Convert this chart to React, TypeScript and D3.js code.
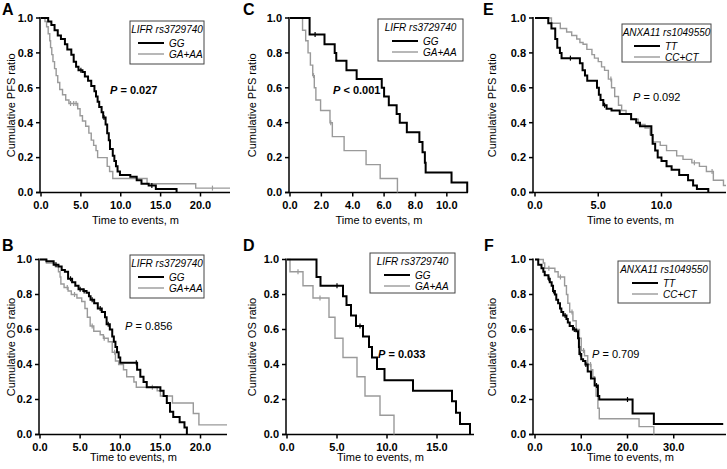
import React from "react";
import * as d3 from "d3";

type Pt = [number, number];

const yTicks = [0, 0.2, 0.4, 0.6, 0.8, 1.0];

// ---------- Panel A (PFS, LIFR) ----------
const aXTicks = [0, 5, 10, 15, 20];
const aGG: Pt[] = [[0.9,0.98],[1.3,0.96],[1.7,0.93],[2.1,0.9],[2.5,0.88],[3.0,0.85],[3.3,0.82],[3.8,0.79],[4.1,0.75],[4.4,0.72],[4.7,0.7],[5.2,0.69],[5.5,0.665],[5.9,0.64],[6.3,0.61],[6.7,0.58],[6.9,0.55],[7.1,0.52],[7.3,0.49],[7.6,0.46],[7.8,0.43],[8.1,0.39],[8.3,0.34],[8.5,0.3],[8.65,0.25],[9.0,0.21],[9.2,0.18],[9.4,0.15],[9.6,0.12],[9.9,0.1],[11.2,0.09],[12.0,0.07],[12.6,0.05],[13.5,0.04],[14.4,0.02],[17.0,0.0]];
const aGA: Pt[] = [[0.5,0.98],[0.7,0.95],[0.9,0.91],[1.1,0.87],[1.2,0.83],[1.35,0.79],[1.5,0.75],[1.7,0.71],[1.9,0.67],[2.1,0.63],[2.35,0.59],[2.7,0.56],[3.1,0.53],[3.5,0.51],[4.6,0.48],[4.9,0.44],[5.2,0.41],[5.6,0.38],[6.0,0.34],[6.3,0.3],[6.6,0.27],[6.9,0.24],[7.1,0.2],[8.3,0.15],[8.6,0.12],[9.0,0.08],[13.3,0.05],[19.4,0.025],[23.7,0.025]];
const aGGCens = [5.0, 7.9, 13.9];
const aGACens = [3.7, 4.1, 4.4, 21.5];

// ---------- Panel C (PFS, LIFR) ----------
const cXTicks = [0, 2, 4, 6, 8, 10];
const cGG: Pt[] = [[1.25,0.905],[2.2,0.85],[2.85,0.8],[2.95,0.755],[3.6,0.7],[4.25,0.65],[5.85,0.6],[6.0,0.55],[6.3,0.5],[6.8,0.45],[7.0,0.4],[7.45,0.345],[8.25,0.29],[8.45,0.23],[8.6,0.17],[8.65,0.115],[10.3,0.058],[11.3,0.0]];
const cGA: Pt[] = [[0.8,0.93],[1.0,0.87],[1.15,0.8],[1.3,0.73],[1.45,0.67],[1.55,0.6],[1.65,0.53],[1.95,0.47],[2.55,0.4],[2.7,0.32],[3.45,0.24],[4.85,0.16],[5.75,0.08],[6.85,0.0]];
const cGGCens = [1.6];
const cGACens = [1.5, 2.6];

// ---------- Panel E (PFS, ANXA11) ----------
const eXTicks = [0, 5, 10];
const eTT: Pt[] = [[1.05,0.97],[1.3,0.94],[1.6,0.88],[1.76,0.83],[1.97,0.8],[2.1,0.77],[3.55,0.74],[3.76,0.7],[3.95,0.67],[4.13,0.64],[4.9,0.6],[5.05,0.56],[5.18,0.53],[5.4,0.5],[5.66,0.48],[6.05,0.47],[6.7,0.45],[7.6,0.42],[8.0,0.4],[8.3,0.38],[9.2,0.33],[9.3,0.28],[9.5,0.24],[9.7,0.2],[10.0,0.18],[10.4,0.15],[10.8,0.13],[11.4,0.1],[12.1,0.07],[12.5,0.04],[12.8,0.02],[13.7,0.0]];
const eCC: Pt[] = [[1.3,0.97],[2.0,0.94],[2.5,0.92],[2.9,0.9],[3.3,0.88],[3.55,0.86],[3.8,0.85],[4.1,0.82],[4.5,0.79],[4.7,0.77],[5.0,0.75],[5.26,0.72],[5.5,0.7],[5.8,0.65],[6.05,0.6],[6.3,0.55],[6.6,0.5],[6.85,0.47],[7.2,0.45],[7.6,0.42],[8.16,0.39],[8.7,0.37],[9.1,0.33],[9.3,0.29],[9.9,0.27],[10.4,0.24],[11.2,0.21],[11.7,0.19],[12.4,0.17],[13.0,0.15],[13.55,0.12],[14.1,0.07],[14.9,0.04],[15.1,0.04]];
const eTTCens = [2.8, 5.5];
const eCCCens = [6.0, 12.6, 14.0];

// ---------- Panel B (OS, LIFR) ----------
const bXTicks = [0, 5, 10, 15, 20];
const bGG: Pt[] = [[0.8,0.99],[1.7,0.97],[2.3,0.96],[2.7,0.94],[3.1,0.93],[3.5,0.89],[4.0,0.87],[4.4,0.85],[4.8,0.83],[5.4,0.82],[5.8,0.81],[6.1,0.79],[6.3,0.77],[6.75,0.75],[7.2,0.72],[7.7,0.7],[8.1,0.67],[8.3,0.63],[8.7,0.6],[9.0,0.56],[9.2,0.53],[9.4,0.5],[9.6,0.47],[9.8,0.44],[10.0,0.41],[12.1,0.37],[12.5,0.33],[12.9,0.3],[13.3,0.27],[15.0,0.25],[15.4,0.22],[15.8,0.18],[16.2,0.13],[16.6,0.1],[17.4,0.07],[18.0,0.04],[18.3,0.0]];
const bGA: Pt[] = [[0.8,0.98],[1.9,0.96],[2.3,0.93],[2.5,0.9],[2.6,0.86],[3.0,0.84],[3.5,0.82],[3.9,0.8],[4.6,0.78],[5.2,0.76],[5.6,0.72],[5.9,0.67],[6.25,0.62],[6.7,0.59],[7.5,0.57],[7.9,0.55],[8.5,0.53],[9.0,0.47],[9.4,0.42],[9.8,0.4],[10.4,0.37],[10.8,0.33],[11.7,0.3],[12.0,0.27],[14.6,0.25],[15.0,0.22],[16.5,0.18],[19.1,0.12],[19.8,0.055],[23.3,0.055]];
const bGGCens = [2.0, 3.8, 5.0, 5.5, 6.5, 7.5, 8.5, 12.0];
const bGACens = [3.4, 4.3, 6.5, 8.0, 9.3, 14.0];

// ---------- Panel D (OS, LIFR) ----------
const dXTicks = [0, 5, 10, 15];
const dGG: Pt[] = [[2.95,0.9],[3.35,0.85],[5.6,0.79],[5.95,0.74],[6.4,0.68],[6.9,0.62],[7.6,0.56],[8.2,0.5],[8.5,0.44],[9.0,0.375],[9.75,0.31],[12.6,0.25],[16.5,0.19],[16.9,0.125],[17.3,0.06],[18.3,0.0]];
const dGA: Pt[] = [[0.3,0.93],[1.6,0.85],[2.6,0.78],[4.2,0.67],[4.8,0.55],[5.6,0.44],[7.0,0.33],[7.8,0.22],[9.3,0.11],[10.7,0.0]];
const dGGCens = [5.0, 7.3];
const dGACens = [1.1, 3.3];

// ---------- Panel F (OS, ANXA11) ----------
const fXTicks = [0, 10, 20, 30];
const fTT: Pt[] = [[0.7,0.97],[1.4,0.95],[1.8,0.93],[2.1,0.91],[2.9,0.89],[3.2,0.87],[3.6,0.85],[3.9,0.82],[4.3,0.8],[4.6,0.77],[5.0,0.75],[5.4,0.72],[5.7,0.7],[6.1,0.68],[6.8,0.66],[7.1,0.64],[7.5,0.62],[8.2,0.6],[8.9,0.59],[9.3,0.55],[9.5,0.5],[9.6,0.46],[10.0,0.43],[10.4,0.42],[10.9,0.4],[11.4,0.36],[12.1,0.32],[12.9,0.28],[13.6,0.22],[13.9,0.2],[21.1,0.12],[25.7,0.06],[40.7,0.06]];
const fCC: Pt[] = [[1.8,0.98],[2.1,0.95],[4.3,0.93],[5.0,0.9],[6.4,0.85],[6.8,0.8],[7.1,0.75],[7.5,0.7],[8.2,0.65],[8.9,0.6],[9.6,0.55],[10.0,0.48],[10.7,0.45],[11.4,0.4],[12.1,0.37],[12.5,0.33],[12.9,0.28],[13.2,0.22],[13.6,0.15],[13.9,0.09],[22.5,0.045],[25.7,0.0]];
const fTTCens = [3.0, 4.0, 6.5, 8.5, 9.8, 11.0, 13.3, 20.0];
const fCCCens = [3.0, 5.5, 8.0, 10.5, 12.0];

const lifrGroups = ["GG", "GA+AA"];
const anxaGroups = ["TT", "CC+CT"];

interface Spec {
  letter: string; yTitle: string; gene: string; groups: string[];
  pOp: string; pVal: string; pBold: boolean;
  black: Pt[]; gray: Pt[]; blackCens: number[]; grayCens: number[];
  xTicks: number[]; xMax: number;
}

const specs: Spec[] = [
  { letter: "A", yTitle: "Cumulative PFS ratio", gene: "LIFR rs3729740", groups: lifrGroups, pOp: "=", pVal: "0.027", pBold: true, black: aGG, gray: aGA, blackCens: aGGCens, grayCens: aGACens, xTicks: aXTicks, xMax: 23.7 },
  { letter: "C", yTitle: "Cumulative PFS ratio", gene: "LIFR rs3729740", groups: lifrGroups, pOp: "<", pVal: "0.001", pBold: true, black: cGG, gray: cGA, blackCens: cGGCens, grayCens: cGACens, xTicks: cXTicks, xMax: 11.35 },
  { letter: "E", yTitle: "Cumulative PFS ratio", gene: "ANXA11 rs1049550", groups: anxaGroups, pOp: "=", pVal: "0.092", pBold: false, black: eTT, gray: eCC, blackCens: eTTCens, grayCens: eCCCens, xTicks: eXTicks, xMax: 15.1 },
  { letter: "B", yTitle: "Cumulative OS ratio", gene: "LIFR rs3729740", groups: lifrGroups, pOp: "=", pVal: "0.856", pBold: false, black: bGG, gray: bGA, blackCens: bGGCens, grayCens: bGACens, xTicks: bXTicks, xMax: 23.3 },
  { letter: "D", yTitle: "Cumulative OS ratio", gene: "LIFR rs3729740", groups: lifrGroups, pOp: "=", pVal: "0.033", pBold: true, black: dGG, gray: dGA, blackCens: dGGCens, grayCens: dGACens, xTicks: dXTicks, xMax: 18.7 },
  { letter: "F", yTitle: "Cumulative OS ratio", gene: "ANXA11 rs1049550", groups: anxaGroups, pOp: "=", pVal: "0.709", pBold: false, black: fTT, gray: fCC, blackCens: fTTCens, grayCens: fCCCens, xTicks: fXTicks, xMax: 41.3 },
];

interface Layout {
  axisX: number; x0: number; x1: number; yTop: number; yBot: number;
  letterX: number; letterY: number; yTitleX: number; xTitleY: number;
  leg: { x: number; y: number; w: number; h: number; lx: number };
  pX: number; pY: number;
}

const layouts: Layout[] = [
  { axisX: 40, x0: 41, x1: 230, yTop: 18, yBot: 192.5, letterX: 2, letterY: 15, yTitleX: 11, xTitleY: 224, leg: { x: 130, y: 21, w: 74, h: 43, lx: 8 }, pX: 110, pY: 94 },
  { axisX: 289, x0: 290, x1: 468, yTop: 18, yBot: 192.5, letterX: 243, letterY: 15, yTitleX: 252, xTitleY: 224, leg: { x: 378, y: 19, w: 85, h: 42, lx: 14 }, pX: 333, pY: 94 },
  { axisX: 533, x0: 535, x1: 726, yTop: 18, yBot: 192.5, letterX: 483, letterY: 15, yTitleX: 492, xTitleY: 224, leg: { x: 622, y: 24, w: 89, h: 38, lx: 12 }, pX: 633, pY: 101 },
  { axisX: 39, x0: 40, x1: 227, yTop: 259.5, yBot: 434.5, letterX: 2, letterY: 251, yTitleX: 11, xTitleY: 461, leg: { x: 130, y: 255, w: 74, h: 43, lx: 8 }, pX: 125, pY: 330 },
  { axisX: 286, x0: 287, x1: 474, yTop: 259.5, yBot: 434.5, letterX: 243, letterY: 251, yTitleX: 252, xTitleY: 461, leg: { x: 370, y: 253, w: 85, h: 40, lx: 14 }, pX: 378, pY: 358 },
  { axisX: 533, x0: 535, x1: 726, yTop: 259.5, yBot: 434.5, letterX: 484, letterY: 251, yTitleX: 492, xTitleY: 461, leg: { x: 618, y: 261, w: 92, h: 42, lx: 14 }, pX: 592, pY: 358 },
];

const FONT = "'Liberation Sans', Arial, Helvetica, sans-serif";
const GRAY = "#9a9a9a";

function survAt(pts: Pt[], t: number): number {
  let s = 1;
  for (const [tt, ss] of pts) {
    if (tt <= t) s = ss;
    else break;
  }
  return s;
}

function Panel({ spec, lay }: { spec: Spec; lay: Layout }) {
  const x = d3.scaleLinear().domain([0, spec.xMax]).range([lay.x0, lay.x1]);
  const y = d3.scaleLinear().domain([0, 1]).range([lay.yBot, lay.yTop]);
  const line = d3
    .line<Pt>()
    .x((d) => x(d[0]))
    .y((d) => y(d[1]))
    .curve(d3.curveStepAfter);
  const pathOf = (pts: Pt[]) => line([[0, 1], ...pts]) || "";
  const xMid = (lay.x0 + lay.x1) / 2;
  const yMid = (lay.yTop + lay.yBot) / 2;
  const L = lay.leg;
  return (
    <g fontFamily={FONT}>
      <text x={lay.letterX} y={lay.letterY} fontSize={16} fontWeight="bold">{spec.letter}</text>
      {/* y axis */}
      <line x1={lay.axisX} x2={lay.axisX} y1={y(1) - 1} y2={lay.yBot} stroke="#000" strokeWidth={1.5} />
      {yTicks.map((t) => (
        <g key={t}>
          <line x1={lay.axisX - 4} x2={lay.axisX} y1={y(t)} y2={y(t)} stroke="#000" strokeWidth={1.5} />
          <text x={lay.axisX - 7} y={y(t)} dy="0.35em" textAnchor="end" fontSize={11} fontWeight="bold">{t.toFixed(1)}</text>
        </g>
      ))}
      {/* x axis */}
      <line x1={lay.axisX - 4} x2={lay.x1} y1={lay.yBot} y2={lay.yBot} stroke="#000" strokeWidth={1.5} />
      {spec.xTicks.map((t) => (
        <g key={t}>
          <line x1={x(t)} x2={x(t)} y1={lay.yBot} y2={lay.yBot + 4} stroke="#000" strokeWidth={1.5} />
          <text x={x(t)} y={lay.yBot + 16} textAnchor="middle" fontSize={11} fontWeight="bold">{t.toFixed(1)}</text>
        </g>
      ))}
      <text x={xMid} y={lay.xTitleY} textAnchor="middle" fontSize={11}>Time to events, m</text>
      <text transform={`translate(${lay.yTitleX},${yMid}) rotate(-90)`} dy="0.35em" textAnchor="middle" fontSize={11}>{spec.yTitle}</text>
      {/* curves */}
      <path d={pathOf(spec.gray)} fill="none" stroke={GRAY} strokeWidth={1.4} />
      {spec.grayCens.map((t, i) => (
        <line key={"g" + i} x1={x(t)} x2={x(t)} y1={y(survAt(spec.gray, t)) - 2.5} y2={y(survAt(spec.gray, t)) + 2.5} stroke={GRAY} strokeWidth={1.2} />
      ))}
      <path d={pathOf(spec.black)} fill="none" stroke="#000" strokeWidth={2} />
      {spec.blackCens.map((t, i) => (
        <line key={"b" + i} x1={x(t)} x2={x(t)} y1={y(survAt(spec.black, t)) - 2.5} y2={y(survAt(spec.black, t)) + 2.5} stroke="#000" strokeWidth={1.2} />
      ))}
      {/* legend */}
      <rect x={L.x} y={L.y} width={L.w} height={L.h} fill="#fff" stroke="#444" strokeWidth={1} />
      <text x={L.x + L.w / 2} y={L.y + 12} textAnchor="middle" fontSize={10} fontStyle="italic">{spec.gene}</text>
      <line x1={L.x + L.lx} x2={L.x + L.lx + 26} y1={L.y + 22} y2={L.y + 22} stroke="#000" strokeWidth={2} />
      <text x={L.x + L.lx + 31} y={L.y + 25.5} fontSize={10} fontStyle="italic">{spec.groups[0]}</text>
      <line x1={L.x + L.lx} x2={L.x + L.lx + 26} y1={L.y + 33} y2={L.y + 33} stroke={GRAY} strokeWidth={1.4} />
      <text x={L.x + L.lx + 31} y={L.y + 36.5} fontSize={10} fontStyle="italic">{spec.groups[1]}</text>
      {/* P value */}
      <text x={lay.pX} y={lay.pY} fontSize={11} fontWeight={spec.pBold ? "bold" : "normal"}>
        <tspan fontStyle="italic">P</tspan>
        <tspan>{` ${spec.pOp} ${spec.pVal}`}</tspan>
      </text>
    </g>
  );
}

export default function App() {
  return (
    <svg width={727} height={469} style={{ position: "absolute", left: 0, top: 0, background: "#fff" }} xmlSpace="preserve">
      <rect width={727} height={469} fill="#fff" />
      {specs.map((s, i) => (
        <Panel key={s.letter} spec={s} lay={layouts[i]} />
      ))}
    </svg>
  );
}
